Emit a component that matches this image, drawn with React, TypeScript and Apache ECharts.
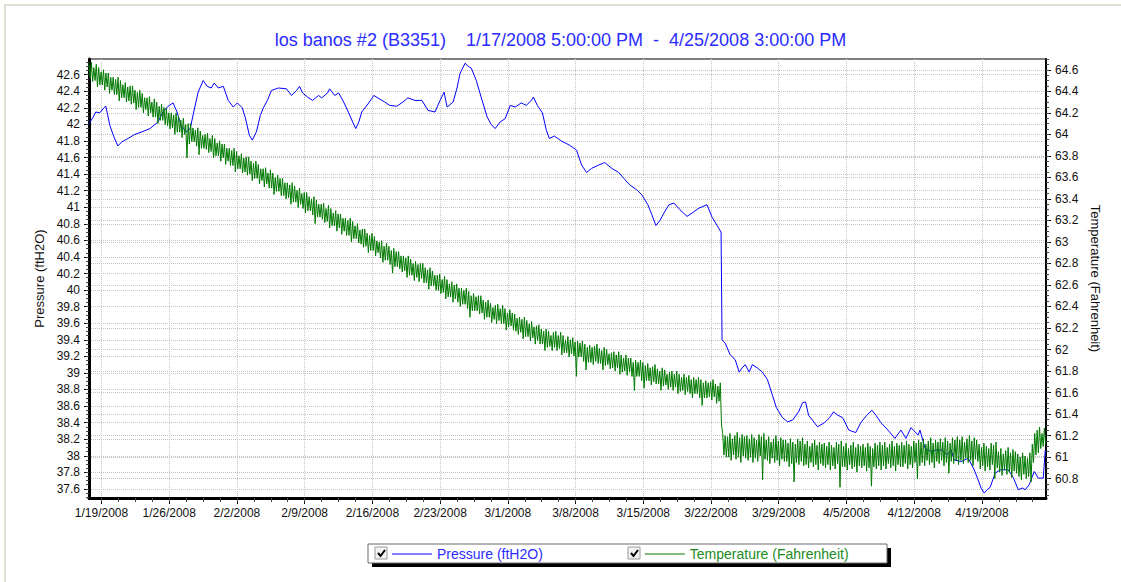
import React, { useEffect, useRef } from "react";
import * as echarts from "echarts";

const FONT = "'Liberation Sans', Arial, sans-serif";
const TITLE =
  "los banos #2 (B3351)\u00a0\u00a0\u00a0 1/17/2008 5:00:00 PM\u00a0 -\u00a0 4/25/2008 3:00:00 PM";
const START = "2008-01-17T17:00:00Z";
const END = "2008-04-25T15:00:00Z";
const DAY0 = "2008-01-19T00:00:00Z";
const PRESSURE_NAME = "Pressure (ftH2O)";
const TEMP_NAME = "Temperature (Fahrenheit)";

const weekTicks = [
  "2008-01-19", "2008-01-26", "2008-02-02", "2008-02-09", "2008-02-16",
  "2008-02-23", "2008-03-01", "2008-03-08", "2008-03-15", "2008-03-22",
  "2008-03-29", "2008-04-05", "2008-04-12", "2008-04-19",
];
const pressureTicks = [
  37.6, 37.8, 38, 38.2, 38.4, 38.6, 38.8, 39, 39.2, 39.4, 39.6, 39.8, 40,
  40.2, 40.4, 40.6, 40.8, 41, 41.2, 41.4, 41.6, 41.8, 42, 42.2, 42.4, 42.6,
];
const temperatureTicks = [
  60.8, 61, 61.2, 61.4, 61.6, 61.8, 62, 62.2, 62.4, 62.6, 62.8, 63, 63.2,
  63.4, 63.6, 63.8, 64, 64.2, 64.4, 64.6,
];

// Pressure: [days since 1/19/2008 00:00, ftH2O]
const pressure: [number, number][] = [
  [-1.29, 42.01], [-0.9, 42.08], [-0.59, 42.15], [-0.18, 42.14], [0.24, 42.2], [0.45, 42.22],
  [0.86, 41.99], [1.28, 41.85], [1.69, 41.74], [2.11, 41.79], [2.73, 41.83], [3.45, 41.88],
  [4.18, 41.91], [5.01, 41.95], [5.84, 42.03], [6.36, 42.15], [6.88, 42.22], [7.4, 42.26],
  [7.81, 42.15], [8.23, 41.99], [8.75, 41.91], [9.17, 41.95], [9.57, 42.17], [9.99, 42.39],
  [10.51, 42.53], [10.92, 42.46], [11.34, 42.44], [11.65, 42.5], [12.07, 42.44], [12.59, 42.46],
  [13.1, 42.29], [13.62, 42.21], [14.04, 42.26], [14.55, 42.2], [14.87, 42.08], [15.28, 41.87],
  [15.59, 41.81], [16.01, 41.91], [16.42, 42.11], [16.73, 42.2], [17.15, 42.29], [17.56, 42.41],
  [18.29, 42.44], [19.12, 42.43], [19.64, 42.35], [20.16, 42.41], [20.47, 42.46], [20.78, 42.38],
  [21.3, 42.33], [21.82, 42.29], [22.44, 42.35], [22.76, 42.32], [23.37, 42.38], [23.58, 42.43],
  [24.1, 42.35], [24.52, 42.38], [25.03, 42.27], [25.55, 42.14], [25.96, 42.03], [26.28, 41.95],
  [26.6, 42.03], [26.9, 42.15], [27.63, 42.26], [28.15, 42.35], [28.57, 42.32], [29.28, 42.27],
  [29.8, 42.23], [30.53, 42.22], [31.15, 42.27], [31.67, 42.32], [32.4, 42.29], [33.12, 42.29],
  [33.75, 42.17], [34.47, 42.15], [34.99, 42.29], [35.41, 42.39], [35.72, 42.21], [36.34, 42.27],
  [36.75, 42.44], [37.07, 42.62], [37.59, 42.74], [37.9, 42.7], [38.22, 42.68], [38.74, 42.53],
  [39.24, 42.33], [39.86, 42.09], [40.28, 42.0], [40.69, 41.95], [41.21, 42.03], [41.73, 42.07],
  [42.25, 42.23], [42.77, 42.21], [43.39, 42.26], [43.91, 42.23], [44.43, 42.29], [44.64, 42.33],
  [45.05, 42.23], [45.57, 42.14], [45.98, 41.93], [46.29, 41.83], [46.81, 41.86], [47.54, 41.8],
  [48.37, 41.75], [49.1, 41.69], [49.62, 41.51], [50.14, 41.42], [50.66, 41.47], [51.39, 41.51],
  [52.01, 41.54], [52.74, 41.47], [53.46, 41.42], [53.98, 41.35], [54.6, 41.27], [55.33, 41.21],
  [55.85, 41.15], [56.47, 41.03], [56.89, 40.91], [57.3, 40.78], [57.72, 40.84], [58.13, 40.93],
  [58.65, 41.03], [59.17, 41.05], [59.79, 40.97], [60.52, 40.89], [61.04, 40.93], [61.76, 40.99],
  [62.59, 41.03], [63.11, 40.88], [63.63, 40.78], [64.04, 40.7], [64.14, 39.4], [64.46, 39.36],
  [64.98, 39.22], [65.5, 39.16], [65.91, 39.01], [66.22, 39.06], [66.54, 39.1], [66.95, 39.01],
  [67.27, 39.1], [67.79, 39.06], [68.31, 39.01], [68.83, 38.92], [69.35, 38.73], [69.76, 38.58],
  [70.39, 38.46], [70.91, 38.41], [71.43, 38.43], [72.05, 38.53], [72.46, 38.64], [72.77, 38.65],
  [73.08, 38.49], [74.01, 38.35], [74.74, 38.4], [75.25, 38.46], [75.67, 38.53], [76.09, 38.49],
  [76.61, 38.46], [77.24, 38.31], [77.96, 38.28], [78.48, 38.4], [79.11, 38.49], [79.63, 38.55],
  [80.04, 38.49], [80.56, 38.4], [81.29, 38.31], [82.01, 38.21], [82.63, 38.31], [83.15, 38.21],
  [83.67, 38.34], [84.4, 38.25], [84.6, 38.31], [85.12, 38.09], [85.75, 38.05], [86.26, 38.07],
  [86.89, 38.07], [87.41, 38.01], [87.82, 38.07], [88.13, 37.95], [88.86, 37.93], [89.59, 37.97],
  [90.21, 37.83], [90.6, 37.71], [90.92, 37.61], [91.23, 37.55], [91.54, 37.59], [91.85, 37.62],
  [92.37, 37.79], [92.89, 37.83], [93.72, 37.83], [94.23, 37.74], [94.76, 37.59], [95.17, 37.61],
  [95.48, 37.59], [95.89, 37.65], [96.41, 37.81], [96.83, 37.73], [97.34, 37.73], [97.55, 38.07],
];

// Temperature (Fahrenheit), read every 3 hours from 1/17/2008 17:00:
// tempPeaks at 17:00, 23:00, 05:00, 11:00 ...; tempDips 3 hours after each peak.
const TEMP_STEP_HOURS = 6;
const tempPeaks = [
  64.66, 64.67, 64.62, 64.65, 64.62, 64.58, 64.60, 64.57,
  64.57, 64.53, 64.53, 64.51, 64.53, 64.50, 64.46, 64.48,
  64.44, 64.45, 64.45, 64.41, 64.39, 64.41, 64.38, 64.34,
  64.34, 64.35, 64.30, 64.33, 64.30, 64.26, 64.28, 64.25,
  64.24, 64.20, 64.20, 64.18, 64.20, 64.17, 64.13, 64.15,
  64.09, 64.10, 64.10, 64.06, 64.04, 64.06, 64.03, 63.99,
  64.00, 64.01, 63.96, 63.99, 63.96, 63.92, 63.94, 63.91,
  63.91, 63.87, 63.87, 63.85, 63.87, 63.84, 63.80, 63.82,
  63.78, 63.79, 63.79, 63.75, 63.73, 63.75, 63.72, 63.68,
  63.68, 63.69, 63.64, 63.67, 63.64, 63.60, 63.62, 63.59,
  63.59, 63.55, 63.55, 63.53, 63.55, 63.52, 63.48, 63.50,
  63.45, 63.46, 63.46, 63.42, 63.40, 63.42, 63.39, 63.35,
  63.35, 63.36, 63.31, 63.34, 63.31, 63.27, 63.29, 63.26,
  63.26, 63.22, 63.22, 63.20, 63.22, 63.19, 63.15, 63.17,
  63.11, 63.12, 63.12, 63.08, 63.06, 63.08, 63.05, 63.01,
  63.00, 63.01, 62.96, 62.99, 62.96, 62.92, 62.94, 62.91,
  62.91, 62.87, 62.87, 62.85, 62.87, 62.84, 62.80, 62.82,
  62.79, 62.80, 62.80, 62.76, 62.74, 62.76, 62.73, 62.69,
  62.69, 62.70, 62.65, 62.68, 62.65, 62.61, 62.63, 62.60,
  62.61, 62.57, 62.57, 62.55, 62.57, 62.54, 62.50, 62.52,
  62.49, 62.50, 62.50, 62.46, 62.44, 62.46, 62.43, 62.39,
  62.41, 62.42, 62.38, 62.41, 62.38, 62.34, 62.37, 62.34,
  62.33, 62.29, 62.30, 62.28, 62.30, 62.27, 62.24, 62.26,
  62.21, 62.22, 62.23, 62.19, 62.17, 62.19, 62.17, 62.13,
  62.16, 62.17, 62.13, 62.16, 62.13, 62.09, 62.12, 62.09,
  62.11, 62.07, 62.08, 62.06, 62.08, 62.05, 62.02, 62.04,
  62.02, 62.03, 62.05, 62.01, 61.99, 62.02, 62.00, 61.96,
  61.97, 61.98, 61.95, 61.98, 61.95, 61.92, 61.95, 61.92,
  61.92, 61.88, 61.90, 61.88, 61.90, 61.88, 61.85, 61.87,
  61.83, 61.84, 61.86, 61.82, 61.80, 61.83, 61.81, 61.77,
  61.79, 61.80, 61.77, 61.80, 61.77, 61.74, 61.77, 61.74,
  61.76, 61.72, 61.74, 61.72, 61.74, 61.72, 61.69, 61.71,
  61.69, 61.70, 61.72, 61.68, 61.66, 61.69, 61.22, 61.20,
  61.19, 61.22, 61.17, 61.20, 61.23, 61.18, 61.21, 61.19,
  61.20, 61.17, 61.21, 61.18, 61.16, 61.21, 61.19, 61.22,
  61.16, 61.19, 61.14, 61.17, 61.20, 61.15, 61.18, 61.16,
  61.16, 61.13, 61.17, 61.14, 61.12, 61.17, 61.15, 61.18,
  61.12, 61.15, 61.10, 61.13, 61.16, 61.11, 61.14, 61.12,
  61.13, 61.10, 61.14, 61.11, 61.09, 61.14, 61.12, 61.15,
  61.10, 61.13, 61.08, 61.11, 61.14, 61.09, 61.12, 61.10,
  61.12, 61.09, 61.13, 61.10, 61.08, 61.13, 61.11, 61.14,
  61.11, 61.14, 61.09, 61.12, 61.15, 61.10, 61.13, 61.11,
  61.14, 61.11, 61.15, 61.12, 61.10, 61.15, 61.13, 61.16,
  61.14, 61.17, 61.12, 61.15, 61.18, 61.13, 61.16, 61.14,
  61.17, 61.14, 61.18, 61.15, 61.13, 61.18, 61.16, 61.19,
  61.16, 61.19, 61.14, 61.17, 61.20, 61.15, 61.18, 61.16,
  61.12, 61.09, 61.13, 61.10, 61.08, 61.13, 61.11, 61.14,
  61.05, 61.08, 61.03, 61.06, 61.09, 61.04, 61.07, 61.05,
  61.03, 61.00, 61.04, 61.01, 60.99, 61.04, 61.12, 61.22,
  61.25, 61.28, 61.22, 61.27,
];
const tempDips = [
  64.52, 64.49, 64.50, 64.44, 64.46, 64.46, 64.41, 64.44,
  64.38, 64.41, 64.37, 64.37, 64.31, 64.34, 64.34, 64.30,
  64.31, 64.28, 64.29, 64.23, 64.25, 64.25, 64.20, 64.23,
  64.17, 64.20, 64.16, 64.16, 64.10, 64.13, 64.13, 64.09,
  64.08, 64.05, 64.06, 64.00, 64.02, 64.02, 63.97, 64.00,
  63.78, 63.91, 63.93, 63.93, 63.89, 63.81, 63.87, 63.87,
  63.86, 63.83, 63.84, 63.78, 63.80, 63.80, 63.75, 63.78,
  63.72, 63.75, 63.71, 63.71, 63.65, 63.68, 63.68, 63.64,
  63.65, 63.62, 63.63, 63.57, 63.59, 63.59, 63.54, 63.57,
  63.51, 63.54, 63.50, 63.50, 63.44, 63.47, 63.47, 63.43,
  63.43, 63.40, 63.41, 63.35, 63.37, 63.37, 63.32, 63.35,
  63.31, 63.27, 63.29, 63.29, 63.25, 63.17, 63.23, 63.23,
  63.21, 63.18, 63.19, 63.13, 63.15, 63.15, 63.10, 63.13,
  63.07, 63.10, 63.06, 63.06, 63.00, 63.03, 63.03, 62.99,
  62.98, 62.95, 62.96, 62.90, 62.92, 62.92, 62.87, 62.90,
  62.85, 62.81, 62.83, 62.83, 62.79, 62.71, 62.77, 62.77,
  62.75, 62.72, 62.73, 62.67, 62.69, 62.69, 62.64, 62.67,
  62.63, 62.66, 62.62, 62.62, 62.56, 62.59, 62.59, 62.55,
  62.55, 62.52, 62.53, 62.47, 62.49, 62.49, 62.44, 62.47,
  62.44, 62.40, 62.42, 62.42, 62.38, 62.30, 62.36, 62.36,
  62.36, 62.33, 62.34, 62.28, 62.30, 62.30, 62.25, 62.28,
  62.24, 62.27, 62.24, 62.24, 62.18, 62.21, 62.22, 62.18,
  62.17, 62.14, 62.16, 62.10, 62.12, 62.12, 62.08, 62.11,
  62.05, 62.08, 62.05, 62.05, 61.99, 62.02, 62.03, 61.99,
  62.02, 61.99, 62.01, 61.95, 61.97, 61.97, 61.93, 61.96,
  61.94, 61.75, 61.93, 61.93, 61.89, 61.81, 61.88, 61.88,
  61.86, 61.89, 61.87, 61.87, 61.81, 61.85, 61.86, 61.82,
  61.83, 61.80, 61.83, 61.77, 61.79, 61.80, 61.76, 61.79,
  61.75, 61.62, 61.75, 61.75, 61.71, 61.64, 61.71, 61.71,
  61.67, 61.70, 61.68, 61.68, 61.62, 61.66, 61.67, 61.63,
  61.65, 61.62, 61.65, 61.59, 61.61, 61.62, 61.58, 61.61,
  61.59, 61.55, 61.59, 61.59, 61.55, 61.48, 61.55, 61.55,
  61.56, 61.53, 61.56, 61.50, 61.52, 61.30, 61.02, 61.00,
  61.00, 60.97, 61.02, 60.98, 61.00, 60.95, 61.01, 60.99,
  60.97, 61.00, 60.95, 60.99, 60.96, 61.01, 60.79, 60.98,
  60.97, 60.94, 60.99, 60.95, 60.97, 60.92, 60.98, 60.96,
  60.96, 60.91, 60.94, 60.77, 60.95, 60.93, 60.96, 60.92,
  60.93, 60.90, 60.95, 60.91, 60.93, 60.88, 60.94, 60.92,
  60.90, 60.93, 60.88, 60.92, 60.89, 60.94, 60.72, 60.91,
  60.91, 60.88, 60.93, 60.89, 60.91, 60.86, 60.92, 60.90,
  60.92, 60.87, 60.90, 60.73, 60.91, 60.89, 60.92, 60.88,
  60.92, 60.89, 60.94, 60.90, 60.92, 60.87, 60.93, 60.91,
  60.91, 60.94, 60.89, 60.93, 60.90, 60.95, 60.80, 60.92,
  60.95, 60.92, 60.97, 60.93, 60.95, 60.90, 60.96, 60.94,
  60.97, 60.92, 60.95, 60.85, 60.96, 60.94, 60.97, 60.93,
  60.97, 60.94, 60.99, 60.95, 60.97, 60.92, 60.98, 60.96,
  60.89, 60.92, 60.87, 60.91, 60.88, 60.93, 60.80, 60.90,
  60.86, 60.83, 60.88, 60.84, 60.86, 60.81, 60.87, 60.85,
  60.82, 60.79, 60.84, 60.80, 60.82, 60.77, 60.95, 61.02,
  61.04, 61.08, 61.10, 61.12,
];

const fmtNum = (v: number) => String(parseFloat(Number(v).toFixed(2)));
const fmtDate = (v: number) => {
  const d = new Date(v);
  return `${d.getUTCMonth() + 1}/${d.getUTCDate()}/${d.getUTCFullYear()}`;
};

export default function App() {
  const ref = useRef<HTMLDivElement>(null);

  useEffect(() => {
    if (!ref.current) return;
    const chart = echarts.init(ref.current, null, { renderer: "svg" });
    const DAYMS = 86400000;
    const HOUR = 3600000;
    const base = Date.parse(DAY0);
    const t0 = Date.parse(START);
    const t1 = Date.parse(END);
    const pressureData = pressure.map(([d, v]) => [base + d * DAYMS, v]);
    const tempData: number[][] = [];
    tempPeaks.forEach((v, i) => {
      const t = t0 + i * TEMP_STEP_HOURS * HOUR;
      tempData.push([t, v]);
      tempData.push([t + (TEMP_STEP_HOURS / 2) * HOUR, tempDips[i]]);
    });
    const weekValues = weekTicks.map((s) => Date.parse(s + "T00:00:00Z"));
    const minorX: number[] = [];
    for (let t = base - 1.75 * DAYMS; t <= t1; t += 1.75 * DAYMS) minorX.push(t);
    const minorLeft: number[] = [];
    for (let k = 750; k <= 855; k++) minorLeft.push(k / 20);
    const minorRight: number[] = [];
    for (let k = 1213; k <= 1294; k++) minorRight.push(k / 20);

    const grid = "#c4c4c4";
    const labelStyle = { color: "#111", fontSize: 12, fontFamily: FONT };
    const PMIN = 37.49, PMAX = 42.79, TMIN = 60.62, TMAX = 64.7;

    chart.setOption({
      animation: false,
      backgroundColor: "#ffffff",
      title: {
        text: TITLE,
        left: "center",
        top: 26,
        textStyle: {
          color: "#2b2bff",
          fontSize: 18,
          fontWeight: "normal",
          fontFamily: FONT,
        },
      },
      legend: {
        left: 387,
        top: 542,
        icon: "rect",
        itemWidth: 40,
        itemHeight: 1,
        itemGap: 102,
        textStyle: { fontSize: 14, fontFamily: FONT },
        data: [
          { name: PRESSURE_NAME, textStyle: { color: "#2b2bff" } },
          { name: TEMP_NAME, textStyle: { color: "#1c8c1c" } },
        ],
      },
      grid: {
        left: 89,
        right: 75,
        top: 59,
        bottom: 84,
        show: true,
        borderColor: "#000",
        borderWidth: 1,
        backgroundColor: "#fff",
      },
      xAxis: [
        {
          type: "value",
          min: t0,
          max: t1,
          axisLine: { show: true, onZero: false, lineStyle: { color: "#000", width: 3 } },
          axisTick: { show: true, customValues: weekValues, length: 6, lineStyle: { color: "#000" } },
          axisLabel: { customValues: weekValues, formatter: fmtDate, margin: 9, ...labelStyle },
          splitLine: { show: true, lineStyle: { color: grid, type: "dotted", width: 1 } },
        },
        {
          type: "value",
          min: t0,
          max: t1,
          position: "bottom",
          axisLine: { show: false, onZero: false },
          axisTick: { show: true, customValues: minorX, length: 4, lineStyle: { color: "#444" } },
          axisLabel: { show: false },
          splitLine: { show: false },
        },
      ],
      yAxis: [
        {
          type: "value",
          position: "left",
          min: PMIN,
          max: PMAX,
          name: PRESSURE_NAME,
          nameLocation: "middle",
          nameRotate: 90,
          nameGap: 40,
          nameTextStyle: { color: "#111", fontSize: 13, fontFamily: FONT },
          axisLine: { show: true, onZero: false, lineStyle: { color: "#000", width: 3 } },
          axisTick: { show: true, customValues: pressureTicks, length: 5, lineStyle: { color: "#000" } },
          axisLabel: { customValues: pressureTicks, formatter: fmtNum, margin: 9, ...labelStyle },
          splitLine: { show: true, lineStyle: { color: grid, type: "dotted", width: 1 } },
        },
        {
          type: "value",
          position: "right",
          min: TMIN,
          max: TMAX,
          name: TEMP_NAME,
          nameLocation: "middle",
          nameRotate: -90,
          nameGap: 41,
          nameTextStyle: { color: "#111", fontSize: 13, fontFamily: FONT },
          axisLine: { show: true, onZero: false, lineStyle: { color: "#000", width: 2 } },
          axisTick: { show: true, customValues: temperatureTicks, length: 5, lineStyle: { color: "#000" } },
          axisLabel: { customValues: temperatureTicks, formatter: fmtNum, margin: 9, ...labelStyle },
          splitLine: { show: true, lineStyle: { color: grid, type: "dotted", width: 1 } },
        },
        {
          type: "value",
          position: "left",
          min: PMIN,
          max: PMAX,
          axisLine: { show: false, onZero: false },
          axisTick: { show: true, customValues: minorLeft, length: 3, lineStyle: { color: "#444" } },
          axisLabel: { show: false },
          splitLine: { show: false },
        },
        {
          type: "value",
          position: "right",
          min: TMIN,
          max: TMAX,
          axisLine: { show: false, onZero: false },
          axisTick: { show: true, customValues: minorRight, length: 3, lineStyle: { color: "#444" } },
          axisLabel: { show: false },
          splitLine: { show: false },
        },
      ],
      series: [
        {
          name: PRESSURE_NAME,
          type: "line",
          xAxisIndex: 0,
          yAxisIndex: 0,
          data: pressureData,
          symbol: "none",
          showSymbol: false,
          lineStyle: { color: "#0000ff", width: 1 },
          itemStyle: { color: "#0000ff" },
        },
        {
          name: TEMP_NAME,
          type: "line",
          xAxisIndex: 0,
          yAxisIndex: 1,
          data: tempData,
          symbol: "none",
          showSymbol: false,
          lineStyle: { color: "#007a00", width: 1 },
          itemStyle: { color: "#007a00" },
        },
      ],
      graphic: [
        {
          type: "rect",
          silent: true,
          shape: { x: 5, y: 5, width: 1400, height: 900 },
          style: { fill: "none", stroke: "#e0ddd2", lineWidth: 2 },
        },
        {
          type: "rect",
          silent: true,
          shape: { x: 372, y: 548, width: 519, height: 19 },
          style: { fill: "#000" },
        },
        {
          type: "rect",
          silent: true,
          shape: { x: 368, y: 544, width: 519, height: 19 },
          style: { fill: "#fff", stroke: "#6a6a6a", lineWidth: 1 },
        },
        {
          type: "rect",
          silent: true,
          shape: { x: 375, y: 547, width: 12, height: 12 },
          style: { fill: "#f2f2f2", stroke: "#9c9c9c", lineWidth: 1 },
        },
        {
          type: "polyline",
          silent: true,
          shape: { points: [[378, 553], [380.5, 556], [385, 550]] },
          style: { stroke: "#000", lineWidth: 2, fill: "none" },
        },
        {
          type: "rect",
          silent: true,
          shape: { x: 628, y: 547, width: 12, height: 12 },
          style: { fill: "#f2f2f2", stroke: "#9c9c9c", lineWidth: 1 },
        },
        {
          type: "polyline",
          silent: true,
          shape: { points: [[631, 553], [633.5, 556], [638, 550]] },
          style: { stroke: "#000", lineWidth: 2, fill: "none" },
        },
      ],
    });
    return () => chart.dispose();
  }, []);

  return (
    <div
      ref={ref}
      style={{
        position: "absolute",
        left: 0,
        top: 0,
        width: 1121,
        height: 582,
        background: "#fff",
      }}
    />
  );
}
